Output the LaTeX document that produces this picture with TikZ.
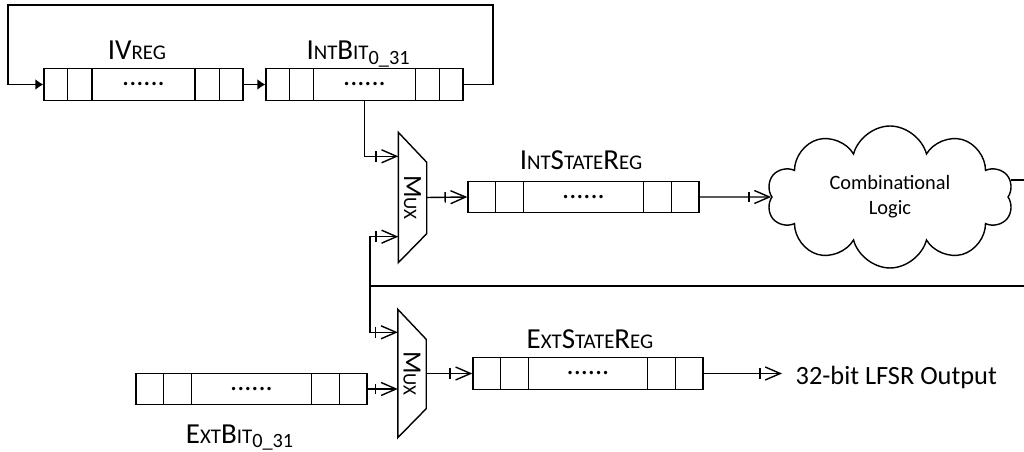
\documentclass[tikz,border=0pt]{standalone}
\usepackage{fontspec}
\setmainfont{Carlito}
\usetikzlibrary{calc,positioning,arrows.meta,shapes.symbols}

\makeatletter
\newcommand{\fakesc}[1]{{\fontsize{\fpeval{0.72*\f@size}}{0}\selectfont\MakeUppercase{#1}}}
\makeatother
\newcommand{\regcells}[1]{%
  \foreach \f in {0.121,0.242,0.758,0.879}
    \draw ($(#1.south west)!\f!(#1.south east)$) -- ($(#1.north west)!\f!(#1.north east)$);
  \node[dots] (#1dots) at (#1) {......};}

\tikzset{
  reg/.style={draw, inner sep=0, minimum width=#1, minimum height=0.63cm},
  dots/.style={inner sep=0, font=\fontsize{16}{16}\selectfont},
  lbl/.style={anchor=base, inner sep=0, font=\fontsize{16.5}{18}\selectfont},
  muxbox/.style={inner sep=0, minimum width=0.54cm, minimum height=#1},
  muxtxt/.style={rotate=-90, inner sep=0, font=\fontsize{15}{15}\selectfont},
  tick/.style={-{Bar[width=0.21cm,sep=0.08cm] Straight Barb[length=0.3cm,width=0.26cm]}},
  fillarr/.style={-{Latex[length=0.16cm,width=0.22cm]}},
}

\begin{document}
\begin{tikzpicture}[x=0.02cm, y=-0.02cm, line width=0.8pt, line join=miter]
  \useasboundingbox (0,0) rectangle (1024,452);

  % registers
  \node[reg=3.98cm] (ivreg) at (143.5,84.5) {};
  \node[reg=3.94cm] (intbit) at (364.5,84.5) {};
  \node[reg=4.62cm] (intst) at (583.5,197) {};
  \node[reg=4.6cm] (extst) at (588,373.5) {};
  \node[reg=4.62cm] (extbit) at (251.5,389) {};
  \regcells{ivreg}
  \regcells{intbit}
  \regcells{intst}
  \regcells{extst}
  \regcells{extbit}

  \node[lbl] (ivlbl) at (137,60) {IV\fakesc{Reg}};
  \node[lbl] (intbitlbl) at (358.5,60) {I\fakesc{nt}B\fakesc{it}\textsubscript{0\_31}};
  \node[lbl] (intstlbl) at (581,170) {I\fakesc{nt}S\fakesc{tate}R\fakesc{eg}};
  \node[lbl] (extstlbl) at (590,349) {E\fakesc{xt}S\fakesc{tate}R\fakesc{eg}};
  \node[lbl] (extbitlbl) at (240,443) {E\fakesc{xt}B\fakesc{it}\textsubscript{0\_31}};

  % multiplexers
  \node[muxbox=2.58cm] (mux1) at (412.5,197.5) {};
  \node[muxbox=2.54cm] (mux2) at (412,373.5) {};
  \draw (mux1.north west) -- ($(mux1.north east)+(0,30)$) -- ($(mux1.south east)+(0,-29)$)
    -- (mux1.south west) -- cycle;
  \draw (mux2.north west) -- ($(mux2.north east)+(0,30)$) -- ($(mux2.south east)+(0,-29)$)
    -- (mux2.south west) -- cycle;
  \node[muxtxt] (mux1t) at (mux1) {M\fakesc{ux}};
  \node[muxtxt] (mux2t) at (mux2) {M\fakesc{ux}};

  % logic cloud
  \node[cloud, draw, cloud puffs=10, cloud ignores aspect, minimum width=4.92cm,
    minimum height=2.84cm, align=center, font=\fontsize{11.6}{14.4}\selectfont]
    (logic) at (890,197) {Combinational\\Logic};

  \node[anchor=base west, inner xsep=0.26cm, inner ysep=0, font=\fontsize{15}{18}\selectfont]
    (outtxt) at (782,384) {32-bit LFSR Output};

  \coordinate (loopR) at (493,5);
  \coordinate (loopL) at (8,5);
  \coordinate (edgeR) at (1024,0);
  \coordinate (fb) at (370,286);
  \coordinate (m1a) at ($(mux1.north west)+(0,24)$);
  \coordinate (m1b) at ($(mux1.south west)+(0,-26)$);
  \coordinate (m2a) at ($(mux2.north west)+(0,23)$);

  % connections
  \draw[fillarr] (ivreg.east) -- (intbit.west);
  \draw[fillarr] (intbit.east) -| (loopR) -- (loopL) |- (ivreg.west);
  \draw[tick] (intbit.south) |- (m1a);
  \draw[tick] (mux1.east) -- (intst.west);
  \draw[tick] (intst.east) -- (logic.west);
  \draw (logic.8) -- (logic.8 -| edgeR);
  \draw[line width=1.4pt] (fb) -- (fb -| edgeR);
  \draw[tick] (fb) |- (m1b);
  \draw[tick] (fb) |- (m2a);
  \draw[tick] (extbit.east) -- (extbit.east -| mux2.west);
  \draw[tick] (mux2.east) -- (extst.west);
  \draw[tick] (extst.east) -- (extst.east -| outtxt.west);
\end{tikzpicture}
\end{document}
